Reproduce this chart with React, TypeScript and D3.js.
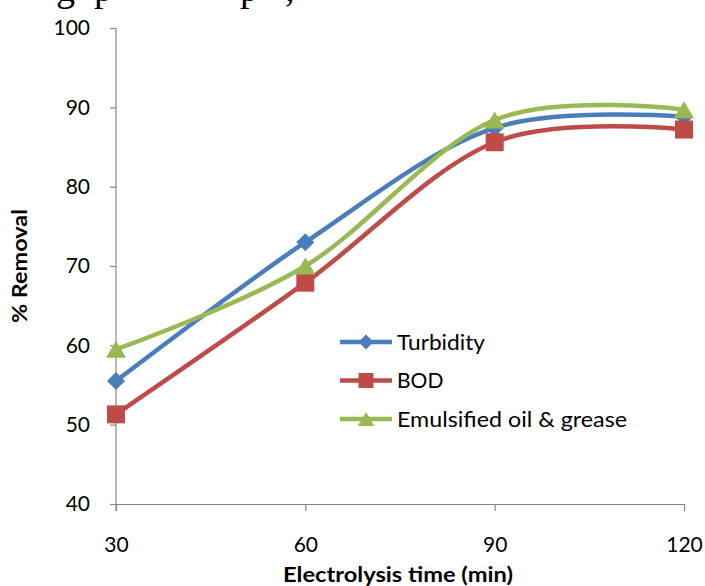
import React, { useEffect, useRef } from 'react';
import * as d3 from 'd3';

// electrolysis time (min)
const times = [30, 60, 90, 120];

// % removal
const turbidity = [55.5, 73.0, 87.4, 88.8];
const bod = [51.3, 67.9, 85.6, 87.2];
const oilGrease = [59.5, 70.0, 88.4, 89.7];

const yTicks = [40, 50, 60, 70, 80, 90, 100];

const seriesNames = ['Turbidity', 'BOD', 'Emulsified oil & grease'];
const seriesColors = ['#4A7EBB', '#BE4B48', '#98B954'];
const seriesMarkers = ['diamond', 'square', 'triangle'];
const legendWidths = [88, null, 230];

const W = 705;
const H = 586;
const FONT = 'Lato, "Open Sans", sans-serif';

const markerPath = (kind: string, s: number) => {
    if (kind === 'square') {
        const h = s / 2;
        return `M${-h},${-h}H${h}V${h}H${-h}Z`;
    }
    if (kind === 'diamond') {
        const h = s / 2;
        return `M0,${-h}L${h},0L0,${h}L${-h},0Z`;
    }
    // triangle, a bit wider than tall
    const w = s * 0.56;
    const h = s * 0.47;
    return `M0,${-h}L${w},${h}L${-w},${h}Z`;
};

const App = () => {
    const svgRef = useRef<SVGSVGElement>(null);

    useEffect(() => {
        const svg = d3.select(svgRef.current);
        svg.selectAll('*').remove();

        const margin = { top: 28, right: 21, bottom: 82, left: 116 };
        const x = d3.scaleLinear().domain([30, 120]).range([margin.left, W - margin.right]);
        const y = d3.scaleLinear().domain([40, 100]).range([H - margin.bottom, margin.top]);

        // bottom edge of the document line above the chart (cut off in the scan)
        svg.append('text')
            .attr('y', 1)
            .style('font-family', '"Liberation Serif", "Times New Roman", serif')
            .style('font-size', '38px')
            .attr('fill', '#000')
            .selectAll('tspan')
            .data([{ t: 'g', x: 56 }, { t: 'p', x: 94 }, { t: 'p', x: 240 }, { t: ',', x: 285 }])
            .enter()
            .append('tspan')
            .attr('x', d => d.x)
            .text(d => d.t);

        // axes
        const yAxis = svg.append('g')
            .attr('transform', `translate(${margin.left},0)`)
            .call(d3.axisLeft(y).tickValues(yTicks).tickSizeInner(6).tickSizeOuter(0).tickPadding(20));

        const xAxis = svg.append('g')
            .attr('transform', `translate(0,${H - margin.bottom})`)
            .call(d3.axisBottom(x).tickValues(times).tickSizeInner(7).tickSizeOuter(0).tickPadding(26));

        [yAxis, xAxis].forEach(a => {
            a.select('.domain').attr('stroke', '#868686').attr('stroke-width', 1.2);
            a.selectAll('.tick line').attr('stroke', '#868686').attr('stroke-width', 1.2);
            a.selectAll('.tick text')
                .attr('fill', '#000')
                .style('font-family', FONT)
                .style('font-size', '21px');
        });
        // y axis line runs down past the x axis like the tick at 30
        yAxis.select('.domain').attr('d', `M0,${margin.top}V${H - margin.bottom + 7}`);

        // axis titles
        svg.append('text')
            .attr('x', 398)
            .attr('y', 582)
            .attr('text-anchor', 'middle')
            .attr('textLength', 230)
            .attr('lengthAdjust', 'spacingAndGlyphs')
            .style('font-family', FONT)
            .style('font-size', '20px')
            .style('font-weight', 'bold')
            .text('Electrolysis time (min)');

        svg.append('text')
            .attr('transform', 'translate(27,266) rotate(-90)')
            .attr('text-anchor', 'middle')
            .attr('textLength', 114)
            .attr('lengthAdjust', 'spacingAndGlyphs')
            .style('font-family', FONT)
            .style('font-size', '20px')
            .style('font-weight', 'bold')
            .text('% Removal');

        // series
        const allSeries = [turbidity, bod, oilGrease];
        const line = d3.line<number>()
            .x((_, i) => x(times[i]))
            .y(d => y(d))
            .curve(d3.curveCardinal.tension(0));

        allSeries.forEach((values, si) => {
            const g = svg.append('g');
            g.append('path')
                .attr('d', line(values))
                .attr('fill', 'none')
                .attr('stroke', seriesColors[si])
                .attr('stroke-width', 4.5)
                .attr('stroke-linejoin', 'round')
                .attr('stroke-linecap', 'round');

            g.selectAll('.marker')
                .data(values)
                .enter()
                .append('path')
                .attr('class', 'marker')
                .attr('transform', (d, i) => `translate(${x(times[i])},${y(d)})`)
                .attr('d', markerPath(seriesMarkers[si], 18))
                .attr('fill', seriesColors[si]);
        });

        // legend
        const legend = svg.append('g');
        const legendY = d3.scalePoint().domain(seriesNames).range([342, 419]);
        seriesNames.forEach((name, si) => {
            const ly = legendY(name) as number;
            legend.append('line')
                .attr('x1', 340).attr('x2', 392)
                .attr('y1', ly).attr('y2', ly)
                .attr('stroke', seriesColors[si])
                .attr('stroke-width', 4.5);
            legend.append('path')
                .attr('transform', `translate(366,${ly})`)
                .attr('d', markerPath(seriesMarkers[si], 15))
                .attr('fill', seriesColors[si]);
            const t = legend.append('text')
                .attr('x', 397)
                .attr('y', ly)
                .attr('dy', '0.36em')
                .style('font-family', FONT)
                .style('font-size', '21px')
                .attr('fill', '#000')
                .text(name);
            if (legendWidths[si]) {
                t.attr('textLength', legendWidths[si]).attr('lengthAdjust', 'spacingAndGlyphs');
            }
        });
    }, []);

    return (
        <div style={{ position: 'absolute', left: 0, top: 0, background: '#fff' }}>
            <svg ref={svgRef} width={W} height={H} />
        </div>
    );
};

export default App;
